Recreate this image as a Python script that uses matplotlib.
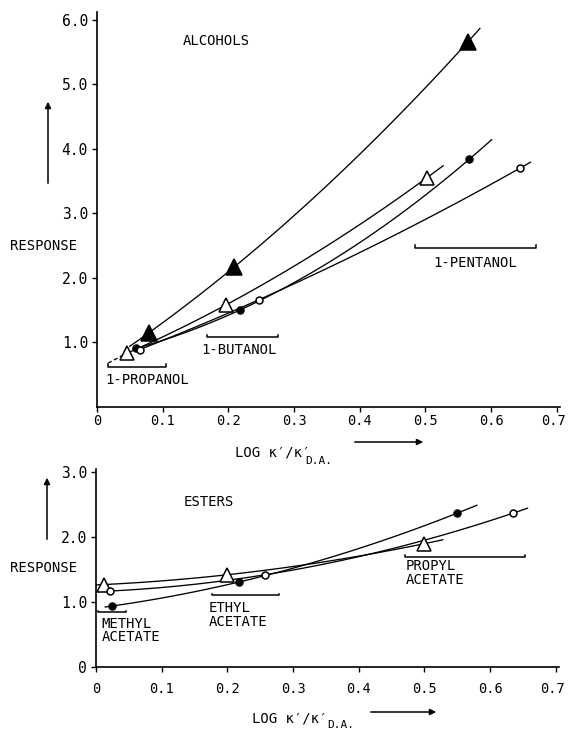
import numpy as np
import matplotlib
matplotlib.use("Agg")
import matplotlib.pyplot as plt
from matplotlib.transforms import ScaledTranslation

W, H = 568, 732

# ---- ALCOHOLS (top panel) ----
alc_ftri_x = [0.079, 0.209, 0.565]
alc_ftri_y = [1.15, 2.17, 5.66]
alc_ftri_span = [0.05, 0.583]

alc_otri_x = [0.045, 0.196, 0.502]
alc_otri_y = [0.83, 1.58, 3.55]
alc_otri_span = [0.044, 0.527]

alc_fcir_x = [0.060, 0.217, 0.567]
alc_fcir_y = [0.91, 1.50, 3.84]
alc_fcir_span = [0.055, 0.601]

alc_ocir_x = [0.065, 0.246, 0.644]
alc_ocir_y = [0.89, 1.66, 3.70]
alc_ocir_span = [0.058, 0.660]

alc_dash_x = [0.017, 0.050]
alc_dash_y = [0.68, 0.86]

alc_names = ["1-PROPANOL", "1-BUTANOL", "1-PENTANOL"]
alc_brackets = [(0.017, 0.105, 0.625), (0.167, 0.275, 1.08), (0.484, 0.668, 2.47)]
alc_label_pos = [(0.013, 0.42), (0.159, 0.88), (0.512, 2.23)]

# ---- ESTERS (bottom panel) ----
est_otri_x = [0.012, 0.199, 0.500]
est_otri_y = [1.27, 1.42, 1.90]
est_otri_span = [0.0, 0.528]

est_ocir_x = [0.021, 0.257, 0.635]
est_ocir_y = [1.17, 1.42, 2.37]
est_ocir_span = [0.021, 0.657]

est_fcir_x = [0.025, 0.218, 0.550]
est_fcir_y = [0.94, 1.31, 2.37]
est_fcir_span = [0.014, 0.580]

est_names = ["METHYL\nACETATE", "ETHYL\nACETATE", "PROPYL\nACETATE"]
est_brackets = [(0.003, 0.046, 0.85), (0.176, 0.279, 1.11), (0.470, 0.653, 1.70)]
est_label_pos = [(0.008, 0.77), (0.172, 1.01), (0.472, 1.66)]

x_ticks = [0, 0.1, 0.2, 0.3, 0.4, 0.5, 0.6, 0.7]
x_ticklabels = ["0", "0.1", "0.2", "0.3", "0.4", "0.5", "0.6", "0.7"]
alc_yticks = [1, 2, 3, 4, 5, 6]
alc_yticklabels = ["1.0", "2.0", "3.0", "4.0", "5.0", "6.0"]
est_yticks = [0, 1, 2, 3]
est_yticklabels = ["0", "1.0", "2.0", "3.0"]

MONO = "DejaVu Sans Mono"
LW = 0.95

fig = plt.figure(figsize=(W / 100, H / 100), dpi=100)


def box(left, top, right, bottom):
    return [left / W, 1 - bottom / H, (right - left) / W, (bottom - top) / H]


def style_axes(ax, ylim, yticks, yticklabels, xpad):
    ax.set_xlim(0, 0.705)
    ax.set_ylim(*ylim)
    for s in ["top", "right"]:
        ax.spines[s].set_visible(False)
    for s in ["left", "bottom"]:
        ax.spines[s].set_linewidth(1.2)
    ax.set_xticks(x_ticks)
    ax.set_xticklabels(x_ticklabels, fontfamily=MONO, fontsize=9.8)
    ax.set_yticks(yticks)
    ax.set_yticklabels(yticklabels, fontfamily=MONO, fontsize=10.5)
    ax.tick_params(direction="out", length=3.5, width=1, pad=3)
    ax.tick_params(axis="x", pad=xpad)
    last = ax.get_xticklabels()[-1]
    last.set_transform(last.get_transform() + ScaledTranslation(-3 / 100, 0, fig.dpi_scale_trans))


def curve(ax, xs, ys, span, marker, filled, ms):
    coef = np.polyfit(xs, ys, 2)
    xx = np.linspace(span[0], span[1], 80)
    ax.plot(xx, np.polyval(coef, xx), color="k", lw=LW, zorder=2)
    ax.plot(xs, ys, linestyle="none", marker=marker, markersize=ms,
            markerfacecolor="k" if filled else "white", markeredgecolor="k",
            markeredgewidth=1.1, zorder=3)


def brackets(ax, spans, names, label_pos):
    for (x0, x1, y), name, (lx, ly) in zip(spans, names, label_pos):
        h = 0.04 * ax.get_ylim()[1] / 6.12
        ax.plot([x0, x0, x1, x1], [y + h, y, y, y + h], color="k", lw=1.1)
        ax.text(lx, ly, name, fontfamily=MONO, fontsize=10,
                va="top" if "\n" in name else "center", ha="left", linespacing=0.95)


# top panel
ax1 = fig.add_axes(box(97, 12, 560, 407))
style_axes(ax1, (0, 6.12), alc_yticks, alc_yticklabels, 1.5)
curve(ax1, alc_ftri_x, alc_ftri_y, alc_ftri_span, "^", True, 11)
curve(ax1, alc_otri_x, alc_otri_y, alc_otri_span, "^", False, 10)
curve(ax1, alc_fcir_x, alc_fcir_y, alc_fcir_span, "o", True, 5)
curve(ax1, alc_ocir_x, alc_ocir_y, alc_ocir_span, "o", False, 5)
ax1.plot(alc_dash_x, alc_dash_y, color="k", lw=LW, linestyle=(0, (3, 2)))
brackets(ax1, alc_brackets, alc_names, alc_label_pos)
ax1.text(0.130, 5.67, "ALCOHOLS", fontfamily=MONO, fontsize=10, va="center")

# bottom panel
ax2 = fig.add_axes(box(96, 469, 559, 667))
style_axes(ax2, (0, 3.05), est_yticks, est_yticklabels, 7)
curve(ax2, est_otri_x, est_otri_y, est_otri_span, "^", False, 10)
curve(ax2, est_ocir_x, est_ocir_y, est_ocir_span, "o", False, 5)
curve(ax2, est_fcir_x, est_fcir_y, est_fcir_span, "o", True, 5)
brackets(ax2, est_brackets, est_names, est_label_pos)
ax2.text(0.134, 2.54, "ESTERS", fontfamily=MONO, fontsize=10, va="center")


def ftext(x, y, s, **kw):
    fig.text(x / W, 1 - y / H, s, fontfamily=MONO, **kw)


def farrow(x0, y0, x1, y1):
    fig.add_artist(matplotlib.patches.FancyArrowPatch(
        (x0 / W, 1 - y0 / H), (x1 / W, 1 - y1 / H), transform=fig.transFigure,
        arrowstyle="-|>", mutation_scale=9, lw=1.1, color="k"))


# y labels with arrows
ftext(10, 246, "RESPONSE", fontsize=10, va="center")
farrow(48, 186, 48, 99)
ftext(10, 568, "RESPONSE", fontsize=10, va="center")
farrow(47, 542, 47, 475)

# x labels with arrows
ftext(235, 453, "LOG κ′/κ′", fontsize=10, va="center")
ftext(305, 461, "D.A.", fontsize=8, va="center")
farrow(352, 442, 426, 442)
ftext(252, 719, "LOG κ′/κ′", fontsize=10, va="center")
ftext(327, 725, "D.A.", fontsize=8, va="center")
farrow(368, 712, 439, 712)

fig.savefig("out.png", dpi=100, facecolor="white")
